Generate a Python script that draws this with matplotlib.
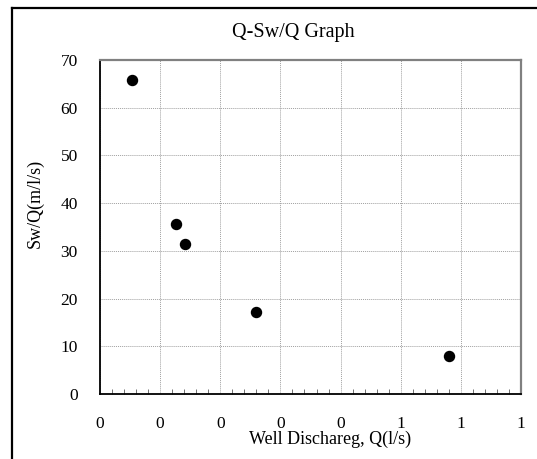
import matplotlib
matplotlib.use("Agg")
import matplotlib.pyplot as plt
from matplotlib.lines import Line2D
from matplotlib.ticker import MultipleLocator

plt.rcParams['font.family'] = ['Liberation Serif', 'DejaVu Serif']

# Pumping test data
discharge = [0.053, 0.126, 0.142, 0.259, 0.580]        # Q (l/s)
specific_drawdown = [65.8, 35.7, 31.4, 17.2, 7.9]      # Sw/Q (m/l/s)

x_ticks = [0.0, 0.1, 0.2, 0.3, 0.4, 0.5, 0.6, 0.7]
x_tick_labels = ['0', '0', '0', '0', '0', '1', '1', '1']
y_ticks = [0, 10, 20, 30, 40, 50, 60, 70]
y_tick_labels = ['0', '10', '20', '30', '40', '50', '60', '70']

W, H = 537, 459
fig = plt.figure(figsize=(W / 100, H / 100), dpi=100)
fig.patch.set_facecolor('white')

# chart frame
fig.add_artist(Line2D([11.5 / W, 11.5 / W], [1 - 7.5 / H, 0], transform=fig.transFigure,
                      color='black', lw=1.6))
fig.add_artist(Line2D([11.5 / W, 1], [1 - 7.5 / H, 1 - 7.5 / H], transform=fig.transFigure,
                      color='black', lw=1.6))

ax = fig.add_axes([100 / W, 65 / H, 421 / W, 334 / H])
ax.scatter(discharge, specific_drawdown, s=52, color='black', zorder=3, clip_on=False)

ax.set_xlim(0, 0.7)
ax.set_ylim(0, 70)
ax.set_xticks(x_ticks)
ax.set_xticklabels(x_tick_labels, fontsize=12.5)
ax.set_yticks(y_ticks)
ax.set_yticklabels(y_tick_labels, fontsize=12.5)
ax.xaxis.set_minor_locator(MultipleLocator(0.02))

ax.tick_params(axis='x', which='major', length=0, pad=16)
ax.tick_params(axis='x', which='minor', direction='in', length=3.5, width=0.7, color='#707070')
ax.tick_params(axis='y', which='major', length=0, pad=16)

ax.grid(True, which='major', color='#a0a0a0', linestyle=(0, (1, 1)), linewidth=0.7)
ax.set_axisbelow(True)

for side in ('left', 'bottom'):
    ax.spines[side].set_color('black')
    ax.spines[side].set_linewidth(1.3)
for side in ('top', 'right'):
    ax.spines[side].set_color('#808080')
    ax.spines[side].set_linewidth(1.6)

fig.text(293.5 / W, 1 - 33 / H, 'Q-Sw/Q Graph', ha='center', va='center', fontsize=14.5)
fig.text(330 / W, 1 - 439 / H, 'Well Dischareg, Q(l/s)', ha='center', va='center', fontsize=13)
fig.text(35 / W, 1 - 203 / H, 'Sw/Q(m/l/s)', ha='center', va='center', rotation=90, fontsize=13)

fig.savefig('out.png', dpi=100, facecolor='white')
